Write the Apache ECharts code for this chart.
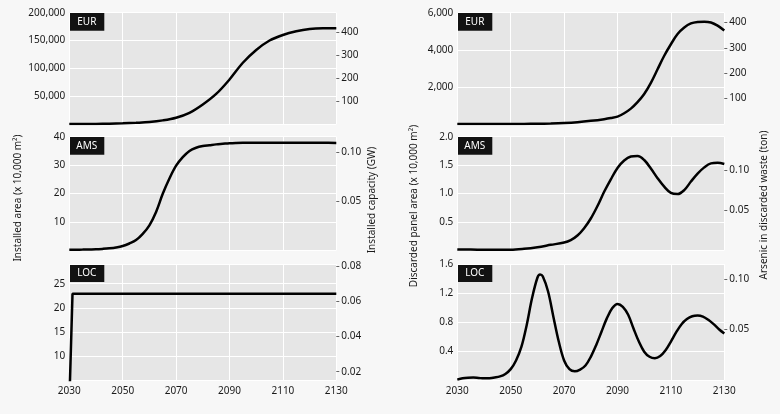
<!DOCTYPE html>
<html>
<head>
<meta charset="utf-8">
<script src="https://cdn.jsdelivr.net/npm/echarts@6/dist/echarts.min.js"></script>
<style>
html,body{margin:0;padding:0;background:#f7f7f7;}
#chart{width:780px;height:414px;}
</style>
</head>
<body>
<div id="chart"></div>
<script>
// ---------------- DATA ----------------
// Installed area (x 10,000 m²)
const eurInstYears = [2030,2035,2040,2045,2050,2055,2060,2065,2070,2075,2080,2085,2090,2095,2100,2105,2110,2115,2120,2125,2130];
const eurInstArea  = [0,50,200,500,1200,2200,3600,6500,11300,20000,35000,54000,80000,110000,133000,150000,160000,166500,170500,172000,172200];

const amsInstYears = [2030,2032.5,2035,2037.5,2040,2042.5,2045,2047.5,2050,2052.5,2055,2057.5,2060,2062.5,2065,2067.5,2070,2072.5,2075,2077.5,2080,2082.5,2085,2087.5,2090,2092.5,2095,2100,2105,2110,2115,2120,2125,2130];
const amsInstArea  = [0.2,0.22,0.25,0.3,0.35,0.5,0.7,1.0,1.5,2.4,3.6,5.8,8.8,13.5,19.9,25.3,29.8,32.8,35,36.1,36.7,37.0,37.3,37.5,37.7,37.8,37.85,37.9,37.9,37.9,37.9,37.9,37.85,37.8];

const locInstYears = [2030,2031.2,2040,2060,2080,2100,2120,2130];
const locInstArea  = [0,22.9,22.9,22.9,22.9,22.9,22.9,22.9];

// Discarded panel area (x 10,000 m²)
const eurDiscYears = [2030,2035,2040,2045,2050,2055,2060,2065,2070,2075,2080,2085,2087.5,2090,2092.5,2095,2097.5,2100,2102.5,2105,2107.5,2110,2112.5,2115,2117.5,2120,2122.5,2125,2127.5,2130];
const eurDiscArea  = [0,0,0,0,0,5,12,28,55,100,170,260,320,400,580,830,1180,1620,2220,2950,3680,4300,4850,5200,5420,5500,5515,5470,5300,5043];

const amsDiscYears = [2030,2035,2040,2045,2050,2055,2060,2065,2070,2072.5,2075,2077.5,2080,2082.5,2085,2087.5,2090,2092.5,2095,2097.5,2100,2102.5,2105,2107.5,2110,2112.5,2115,2117.5,2120,2122.5,2125,2127.5,2130];
const amsDiscArea  = [0.015,0.012,0.01,0.01,0.01,0.026,0.055,0.096,0.137,0.18,0.26,0.39,0.56,0.78,1.03,1.25,1.45,1.58,1.65,1.66,1.59,1.44,1.27,1.12,1.01,0.99,1.06,1.21,1.35,1.46,1.53,1.54,1.52];

const locDiscYears = [2030,2032,2034,2036,2038,2040,2042,2044,2046,2048,2050,2052,2054,2056,2058,2060,2061,2062,2064,2066,2068,2070,2072,2074,2076,2078,2080,2082,2084,2086,2088,2090,2092,2094,2096,2098,2100,2102,2104,2106,2108,2110,2112,2114,2116,2118,2120,2122,2124,2126,2128,2130];
const locDiscArea  = [0.005,0.025,0.032,0.033,0.028,0.023,0.025,0.035,0.05,0.084,0.15,0.27,0.456,0.76,1.13,1.41,1.456,1.43,1.22,0.87,0.53,0.27,0.15,0.12,0.144,0.2,0.32,0.48,0.665,0.85,0.99,1.05,1.01,0.9,0.71,0.53,0.39,0.32,0.30,0.33,0.41,0.53,0.66,0.77,0.84,0.88,0.89,0.875,0.83,0.77,0.70,0.64];

// Tick labels
const xTickInterval = 20;
const eurInstTicks = [50000,100000,150000,200000];
const amsInstTicks = [10,20,30,40];
const locInstTicks = [10,15,20,25];
const eurCapTicks  = [100,200,300,400];
const amsCapTicks  = [0.05,0.10];
const locCapTicks  = [0.02,0.04,0.06,0.08];
const eurDiscTicks = [2000,4000,6000];
const amsDiscTicks = [0.5,1.0,1.5,2.0];
const locDiscTicks = [0.4,0.8,1.2,1.6];
const eurArsTicks  = [100,200,300,400];
const amsArsTicks  = [0.05,0.10];
const locArsTicks  = [0.05,0.10];
const regions = ['EUR','AMS','LOC'];

// ---------------- LAYOUT ----------------
const FONT = 'Noto Sans';
const TXT = '#1a1a1a';
const colLeft = [69.3, 457.3];
const plotW = 267;
const rowTop = [12.7, 136.7, 264];
const rowH = [111.3, 113.6, 116];

const panels = [
  {col:0,row:0,years:eurInstYears,values:eurInstArea,yMin:0,yMax:200000,yInt:50000,yTicks:eurInstTicks,yDig:0,rMin:0,rMax:486,rTicks:eurCapTicks,rDig:0,smooth:0.35},
  {col:0,row:1,years:amsInstYears,values:amsInstArea,yMin:0,yMax:40,yInt:10,yTicks:amsInstTicks,yDig:0,rMin:0,rMax:0.116,rTicks:amsCapTicks,rDig:2,smooth:0.35},
  {col:0,row:2,years:locInstYears,values:locInstArea,yMin:5,yMax:29.1,yInt:5,yTicks:locInstTicks,yDig:0,rMin:0.0153,rMax:0.081,rTicks:locCapTicks,rDig:2,smooth:false},
  {col:1,row:0,years:eurDiscYears,values:eurDiscArea,yMin:0,yMax:6000,yInt:2000,yTicks:eurDiscTicks,yDig:0,rMin:0,rMax:438,rTicks:eurArsTicks,rDig:0,smooth:0.35},
  {col:1,row:1,years:amsDiscYears,values:amsDiscArea,yMin:0,yMax:2,yInt:0.5,yTicks:amsDiscTicks,yDig:1,rMin:0,rMax:0.142,rTicks:amsArsTicks,rDig:2,smooth:0.35},
  {col:1,row:2,years:locDiscYears,values:locDiscArea,yMin:0,yMax:1.6,yInt:0.4,yTicks:locDiscTicks,yDig:1,rMin:0,rMax:0.115,rTicks:locArsTicks,rDig:2,smooth:0.35}
];

function fmt(d){
  return v => Number(v).toLocaleString('en-US',{minimumFractionDigits:d,maximumFractionDigits:d});
}

const grid=[], xAxis=[], yAxis=[], series=[], graphic=[];
panels.forEach((p,i)=>{
  const left = colLeft[p.col], top = rowTop[p.row], h = rowH[p.row];
  grid.push({left:left, top:top, width:plotW, height:h, show:true, backgroundColor:'#e6e6e6', borderWidth:0, containLabel:false});
  xAxis.push({
    type:'value', gridIndex:i, min:2030, max:2130, interval:xTickInterval,
    axisLine:{show:false}, axisTick:{show:false},
    axisLabel:{show:p.row===2, color:TXT, fontFamily:FONT, fontSize:10, margin:6, formatter:v=>String(v)},
    splitLine:{show:true, lineStyle:{color:'#ffffff', width:1}}
  });
  yAxis.push({
    type:'value', gridIndex:i, position:'left', min:p.yMin, max:p.yMax, interval:p.yInt,
    axisLine:{show:false}, axisTick:{show:false},
    axisLabel:{color:TXT, fontFamily:FONT, fontSize:10, margin:4, formatter:fmt(p.yDig), customValues:p.yTicks},
    splitLine:{show:true, lineStyle:{color:'#ffffff', width:1}}
  });
  yAxis.push({
    type:'value', gridIndex:i, position:'right', min:p.rMin, max:p.rMax,
    axisLine:{show:false},
    axisTick:{show:true, length:3, inside:false, customValues:p.rTicks, lineStyle:{color:'#666'}},
    axisLabel:{color:TXT, fontFamily:FONT, fontSize:10, margin:5, formatter:fmt(p.rDig), customValues:p.rTicks},
    splitLine:{show:false}
  });
  series.push({
    type:'line', xAxisIndex:i, yAxisIndex:2*i, showSymbol:false, smooth:p.smooth,
    lineStyle:{color:'#000', width:2.5}, clip:true,
    data:p.years.map((y,k)=>[y,p.values[k]])
  });
  graphic.push({
    type:'group', left:left, top:top, children:[
      {type:'rect', shape:{x:0,y:0,width:35,height:18}, style:{fill:'#121212'}},
      {type:'text', x:17.5, y:9.5, style:{text:regions[p.row], fill:'#fff', font:'10px "'+FONT+'"', align:'center', verticalAlign:'middle'}}
    ]
  });
});

function vname(text,x,y){
  return {type:'text', x:x, y:y, rotation:Math.PI/2,
    style:{text:text, fill:TXT, font:'10px "'+FONT+'"', align:'center', verticalAlign:'middle'}};
}
graphic.push(vname('Installed area (x 10,000 m²)', 18, 198));
graphic.push(vname('Installed capacity (GW)', 372, 200));
graphic.push(vname('Discarded panel area (x 10,000 m²)', 414, 206));
graphic.push(vname('Arsenic in discarded waste (ton)', 764, 205));

const chart = echarts.init(document.getElementById('chart'), null, {renderer:'canvas'});
chart.setOption({
  backgroundColor:'#f7f7f7',
  animation:false,
  grid, xAxis, yAxis, series, graphic
});
</script>
</body>
</html>
